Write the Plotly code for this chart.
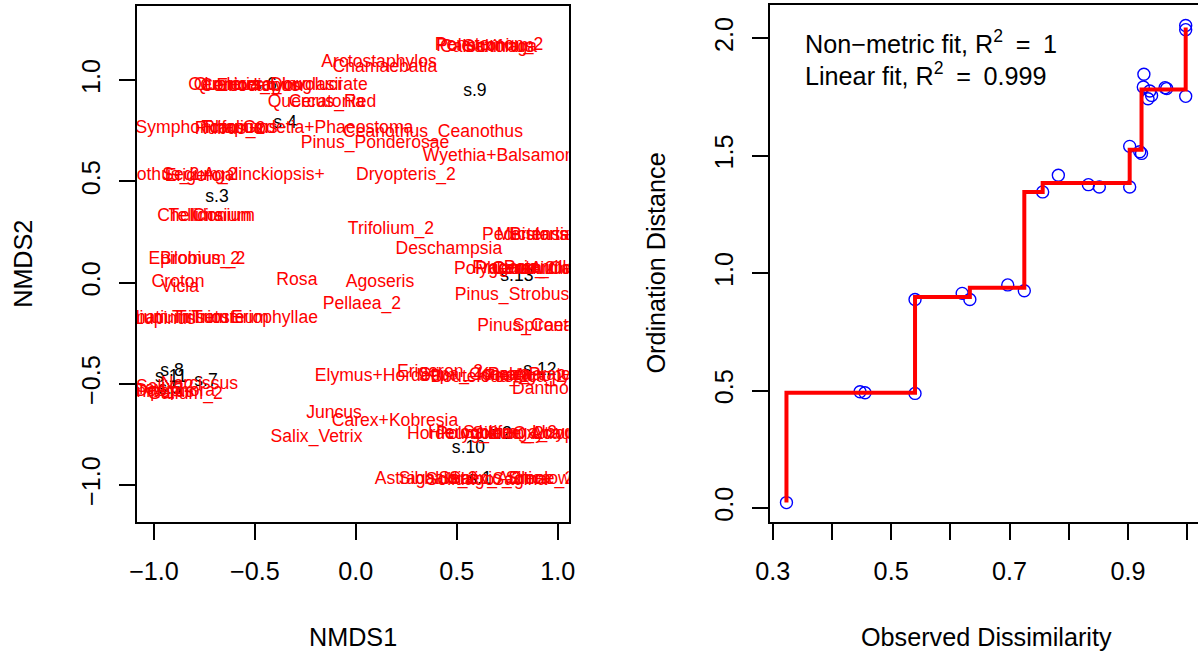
import plotly.graph_objects as go

W, H = 1198, 656
FONT = "Arial, 'Liberation Sans', sans-serif"

# ---------------- NMDS ordination (left panel) ----------------
site_labels = ["s.1", "s.2", "s.3", "s.4", "s.5", "s.6", "s.7",
               "s.8", "s.9", "s.10", "s.11", "s.12", "s.13"]
site_x = [0.615, 0.714, -0.688, -0.351, -0.921, -0.450, -0.742,
          -0.911, 0.590, 0.558, -0.916, 0.912, 0.798]
site_y = [-0.975, -0.750, 0.418, 0.784, -0.531, 0.972, -0.489,
          -0.442, 0.942, -0.820, -0.471, -0.435, 0.028]

species_labels = [
    "Polemonium", "Calochortus", "Penstemon_2", "Saxifraga",
    "Arctostaphylos", "Chamaebatia",
    "Oemleria", "Quercus_Douglasii", "Eriodictyon", "Lonicera_Involucrate", "Cercocarpus",
    "Quercus_Red", "Ceratonia",
    "Symphoricarpos", "Trifolium", "Rhamnus", "Rubus_2", "Godetia+Phaeostoma",
    "Ceanothus_Ceanothus", "Pinus_Ponderosae", "Wyethia+Balsamorhiza",
    "Ceanothus_2", "Sedum_2", "Erigeron", "Agalinckiopsis+", "Dryopteris_2",
    "Tellima", "Chelidonium", "Cirsium",
    "Trifolium_2", "Deschampsia",
    "Pedicularis", "Mertensia", "Bistorta",
    "Polygonum", "Fragaria", "Phleum_2", "Geranium", "Potentilla", "Arnica", "Carex_Capillaris",
    "Croton", "Vicia", "Bromus_2", "Epilobium_2",
    "Rosa", "Agoseris", "Pellaea_2", "Pinus_Strobus", "Pinus_Contorta", "Spiraea",
    "Galium", "Lomatium", "Lupinus", "Trillium", "Trisetum", "Triosteum", "Eriophyllae",
    "Narcissus", "Carex_2", "Salix_2", "Galium_2", "Dasiphora", "Juniperus",
    "Elymus+Hordeum",
    "Erigeron_2", "Stipa_Comata", "Bouteloua_2", "Koeleria", "Festuca_2", "Poa_Pratensis", "Agropyron",
    "Danthonia", "Juncus", "Carex+Kobresia", "Salix_Vetrix",
    "Hordeum_2", "Hierochloe", "Polygonum_2", "Saxifraga_2", "Silene_Acaulis", "Oxytropis", "Lloydia",
    "Astragalus_2", "Sibbaldia", "Solidago", "Senecio_2", "Salix_Arctica", "Sagina", "Silene_2", "Smelowskia",
]
species_x = [
    0.640, 0.650, 0.660, 0.714,
    0.115, 0.144,
    -0.653, -0.435, -0.475, -0.346, -0.524,
    -0.168, -0.143,
    -0.777, -0.599, -0.574, -0.623, -0.138,
    0.382, 0.095, 0.778,
    -1.035, -0.772, -0.782, -0.455, 0.248,
    -0.792, -0.742, -0.663,
    0.174, 0.461,
    0.838, 0.888, 0.912,
    0.704, 0.739, 0.788, 0.863, 0.912, 0.987, 0.995,
    -0.881, -0.871, -0.772, -0.787,
    -0.292, 0.120, 0.030, 0.774, 0.902, 0.927,
    -1.069, -1.020, -0.946, -0.772, -0.723, -0.623, -0.403,
    -0.775, -1.020, -0.946, -0.846, -0.896, -0.990,
    0.144,
    0.417, 0.590, 0.615, 0.764, 0.838, 0.937, 0.987,
    0.972, -0.108, 0.194, -0.195,
    0.481, 0.566, 0.665, 0.764, 0.863, 0.962, 1.011,
    0.348, 0.392, 0.516, 0.615, 0.714, 0.813, 0.912, 0.987,
]
species_y = [
    1.167, 1.160, 1.170, 1.163,
    1.085, 1.061,
    0.972, 0.975, 0.968, 0.972, 0.970,
    0.888, 0.888,
    0.759, 0.759, 0.762, 0.756, 0.759,
    0.740, 0.688, 0.623,
    0.527, 0.527, 0.522, 0.527, 0.527,
    0.327, 0.327, 0.327,
    0.263, 0.164,
    0.233, 0.233, 0.233,
    0.065, 0.068, 0.062, 0.065, 0.068, 0.062, 0.065,
    -0.002, -0.026, 0.112, 0.112,
    0.008, 0.001, -0.108, -0.066, -0.219, -0.219,
    -0.180, -0.180, -0.183, -0.180, -0.178, -0.180, -0.180,
    -0.506, -0.531, -0.521, -0.555, -0.540, -0.545,
    -0.466,
    -0.447, -0.460, -0.470, -0.460, -0.470, -0.460, -0.465,
    -0.531, -0.649, -0.686, -0.765,
    -0.750, -0.745, -0.752, -0.748, -0.752, -0.750, -0.748,
    -0.975, -0.972, -0.978, -0.975, -0.972, -0.978, -0.975, -0.972,
]

nmds_ticks = [-1.0, -0.5, 0.0, 0.5, 1.0]

# ---------------- Shepard / stress plot (right panel) ----------------
obs_dissim = [0.3232, 0.4475, 0.4559, 0.5404, 0.5404, 0.6200, 0.6330, 0.6970, 0.7250,
              0.7560, 0.7825, 0.8333, 0.8517, 0.9030, 0.9030, 0.9200, 0.9230, 0.9260,
              0.9270, 0.9340, 0.9370, 0.9400, 0.9627, 0.9655, 0.9976, 0.9976, 0.9976]
ord_dist = [0.023, 0.495, 0.491, 0.488, 0.888, 0.914, 0.888, 0.950, 0.925,
            1.346, 1.417, 1.377, 1.367, 1.367, 1.540, 1.517, 1.510, 1.793,
            1.847, 1.743, 1.776, 1.757, 1.790, 1.786, 1.753, 2.037, 2.055]
fit_dist = [0.023, 0.491, 0.491, 0.491, 0.899, 0.899, 0.899, 0.9375, 0.9375,
            1.346, 1.384, 1.384, 1.384, 1.384, 1.526, 1.526, 1.526, 1.782,
            1.782, 1.782, 1.782, 1.782, 1.782, 1.782, 1.782, 2.046, 2.046]

shep_xticks = [0.3, 0.5, 0.7, 0.9]
shep_xminor = [0.4, 0.6, 0.8, 1.0]
shep_yticks = [0.0, 0.5, 1.0, 1.5, 2.0]

fit_text = ["Non\u2212metric fit, R<sup>2</sup>\u2002=\u20021",
            "Linear fit, R<sup>2</sup>\u2002=\u20020.999"]

# ---------------- figure ----------------
fig = go.Figure()
fig.add_trace(go.Scatter(x=site_x, y=site_y, text=site_labels, mode="text",
                         textposition="middle center",
                         textfont=dict(color="black", size=17.6, family=FONT),
                         hoverinfo="skip", cliponaxis=True, xaxis="x", yaxis="y"))
fig.add_trace(go.Scatter(x=species_x, y=species_y, text=species_labels, mode="text",
                         textposition="middle center",
                         textfont=dict(color="#FF0000", size=17.6, family=FONT),
                         hoverinfo="skip", cliponaxis=True, xaxis="x", yaxis="y"))
fig.add_trace(go.Scatter(x=obs_dissim, y=ord_dist, mode="markers",
                         marker=dict(symbol="circle-open", size=12, color="#0000FF",
                                     line=dict(width=1.4, color="#0000FF")),
                         hoverinfo="skip", xaxis="x2", yaxis="y2"))
fig.add_trace(go.Scatter(x=obs_dissim, y=fit_dist, mode="lines",
                         line=dict(shape="vh", color="#FF0000", width=4),
                         hoverinfo="skip", xaxis="x2", yaxis="y2"))

common = dict(showgrid=False, zeroline=False, showline=True, linecolor="black",
              linewidth=1.6, ticks="outside", ticklen=16, tickwidth=1.6,
              tickcolor="black", automargin=False,
              tickfont=dict(size=25.2, family=FONT, color="black"))

def px_x(p):
    return p / W

def px_y(p):
    return 1 - p / H

fig.update_layout(
    width=W, height=H, autosize=False, showlegend=False,
    margin=dict(l=0, r=0, t=0, b=0, pad=0),
    paper_bgcolor="white", plot_bgcolor="white",
    xaxis=dict(common, domain=[px_x(137), px_x(568.7)], range=[-1.0842, 1.0545],
               tickvals=nmds_ticks, tickformat=".1f", mirror=True, anchor="y",
               ticklabelstandoff=10),
    yaxis=dict(common, domain=[px_y(522), px_y(5.5)], range=[-1.183, 1.3697],
               tickvals=nmds_ticks, tickformat=".1f", mirror=True, anchor="x",
               tickangle=-90, ticklabelstandoff=9),
    xaxis2=dict(common, domain=[px_x(770), 1.0], range=[0.2954, 1.0184],
                tickvals=shep_xticks, tickformat=".1f", mirror=True, anchor="y2",
                ticklabelstandoff=10,
                minor=dict(tickvals=shep_xminor, ticks="outside", ticklen=16,
                           tickwidth=1.6, tickcolor="black", showgrid=False)),
    yaxis2=dict(common, domain=[px_y(522), px_y(5)], range=[-0.0596, 2.142],
                tickvals=shep_yticks, tickformat=".1f", mirror=False, anchor="x2",
                tickangle=-90, ticklabelstandoff=9),
)

ann_font = dict(size=25.2, family=FONT, color="black")
annotations = [
    dict(text="NMDS1", x=px_x(352.8), y=px_y(637)),
    dict(text="NMDS2", x=px_x(23), y=px_y(263.8), textangle=-90),
    dict(text="Observed Dissimilarity", x=px_x(986), y=px_y(637)),
    dict(text="Ordination Distance", x=px_x(656), y=px_y(263.5), textangle=-90),
]
for a in annotations:
    a.update(xref="paper", yref="paper", showarrow=False, xanchor="center",
             yanchor="middle", font=ann_font)
annotations.append(dict(text=fit_text[0], x=px_x(803), y=px_y(42), xref="paper", yref="paper",
                        showarrow=False, xanchor="left", yanchor="middle", font=ann_font))
annotations.append(dict(text=fit_text[1], x=px_x(803), y=px_y(74), xref="paper", yref="paper",
                        showarrow=False, xanchor="left", yanchor="middle", font=ann_font))
fig.update_layout(annotations=annotations)

fig.write_html("out.html", config={"displayModeBar": False},
               post_script="document.body.style.margin='0';document.body.style.padding='0';"
                           "document.documentElement.style.overflow='hidden';")
